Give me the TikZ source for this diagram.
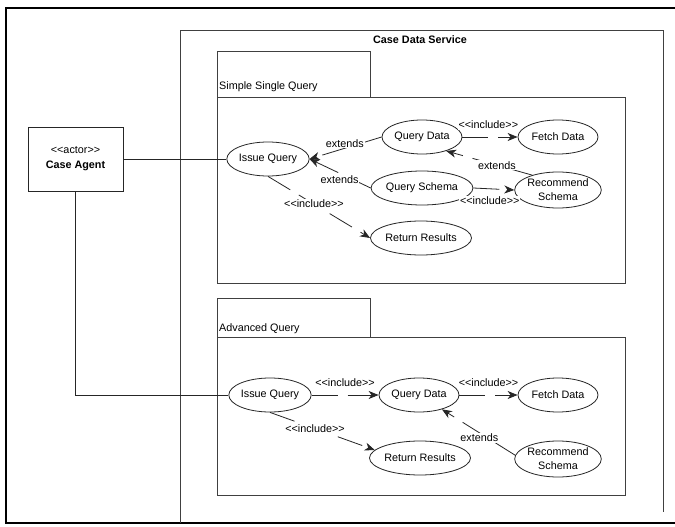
\documentclass[tikz,border=0pt]{standalone}
\usepackage{fontspec}
\setmainfont{Liberation Sans}
\usetikzlibrary{arrows.meta,shapes.geometric}

% stereotype text without guillemet ligatures
\newcommand\stereo[1]{<\kern0pt<#1>\kern0pt>}

\tikzset{
  frame/.style={draw=black, line width=2.4pt},
  pkg/.style={draw=black!75, line width=0.8pt},
  uc/.style={ellipse, draw=black!85, line width=0.8pt, fill=white,
    minimum width=80pt, minimum height=34pt, inner sep=0pt, align=center,
    font=\fontsize{10.8}{14}\selectfont},
  actorbox/.style={rectangle, draw=black!85, line width=0.8pt, fill=white,
    minimum width=95pt, minimum height=64pt, align=center,
    font=\fontsize{10.8}{15}\selectfont},
  assoc/.style={draw=black!85, line width=0.8pt},
  rel/.style={draw=black!85, line width=0.8pt, dash pattern=on 26pt off 10pt,
    -{Stealth[length=10pt,width=8pt,inset=3pt]}},
  lbl/.style={fill=white, inner sep=1pt, font=\fontsize{10.8}{13}\selectfont},
  title/.style={inner sep=0pt, font=\fontsize{10.8}{13}\selectfont}
}

\begin{document}
\begin{tikzpicture}[x=1pt, y=-1pt]
  \useasboundingbox (0,0) rectangle (675,527);
  \fill[white] (0,0) rectangle (675,527);

  % outer frame
  \draw[frame] (675,8) -- (6,8) -- (6,523) -- (675,523);

  % system boundary
  \draw[pkg] (180,523) -- (180,30) -- (663,30) -- (663,512);
  \node[title, font=\fontsize{10.8}{13}\selectfont\bfseries] (sys) at (420,40) {Case Data Service};

  % package: simple single query
  \draw[pkg] (217,51) rectangle (370,97);
  \draw[pkg] (217,97) rectangle (625,283);
  \node[title, anchor=base west] (simple) at (219,89) {Simple Single Query};

  % package: advanced query
  \draw[pkg] (217,298) rectangle (370,337);
  \draw[pkg] (217,337) rectangle (625,495);
  \node[title, anchor=base west] (advanced) at (219,331) {Advanced Query};

  % actor
  \node[actorbox] (actor) at (75.5,159) {\stereo{actor}\\\textbf{Case Agent}};

  % use cases, simple
  \node[uc] (iq1) at (268,159) {Issue Query};
  \node[uc] (qd1) at (422,137) {Query Data};
  \node[uc] (fd1) at (558,137) {Fetch Data};
  \node[uc] (qs1) at (422,188) {Query Schema};
  \node[uc, minimum height=36pt] (rs1) at (558,190) {Recommend\\Schema};
  \node[uc] (rr1) at (421,238) {Return Results};

  % use cases, advanced
  \node[uc] (iq2) at (270,395) {Issue Query};
  \node[uc] (qd2) at (419,395) {Query Data};
  \node[uc] (fd2) at (558,395) {Fetch Data};
  \node[uc] (rr2) at (420,458) {Return Results};
  \node[uc, minimum height=36pt] (rs2) at (558,459) {Recommend\\Schema};

  % actor associations
  \draw[assoc] (actor.east) -- (iq1.west);
  \draw[assoc] (actor.south) |- (iq2.west);

  % relations, simple
  \draw[rel] (qd1.west) -- node[lbl, pos=0.51, yshift=5pt] {extends} (iq1.east);
  \draw[rel] (qs1.west) -- node[lbl, pos=0.51, yshift=-6pt] {extends} (iq1.east);
  \draw[rel] (qd1.east) -- node[lbl, pos=0.47, yshift=12pt] {\stereo{include}} (fd1.west);
  \draw[rel] (qs1.east) -- node[lbl, pos=0.4, yshift=-12pt] {\stereo{include}} (rs1.west);
  \draw[rel] (rs1.150) -- node[lbl, pos=0.41] {extends} (qd1.-30);
  \draw[rel] (iq1.south) -- node[lbl, pos=0.45] {\stereo{include}} (rr1.west);

  % relations, advanced
  \draw[rel] (iq2.east) -- node[lbl, pos=0.5, yshift=12pt] {\stereo{include}} (qd2.west);
  \draw[rel] (qd2.east) -- node[lbl, pos=0.5, yshift=12pt] {\stereo{include}} (fd2.west);
  \draw[rel] (iq2.south) -- node[lbl, pos=0.43] {\stereo{include}} (rr2.170);
  \draw[rel] (rs2.175) -- node[lbl, pos=0.49, yshift=-5pt] {extends} (qd2.-32);
\end{tikzpicture}
\end{document}
